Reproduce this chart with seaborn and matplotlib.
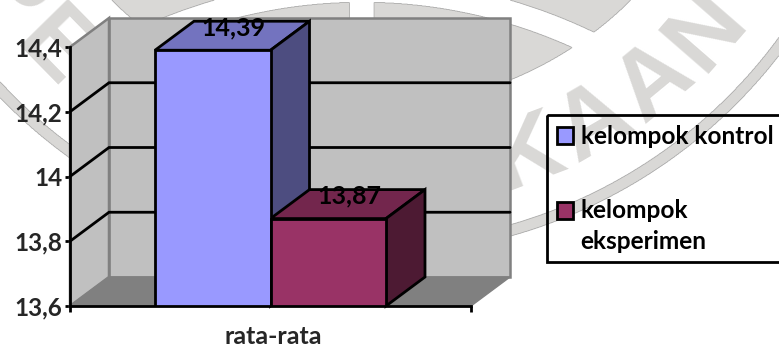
import numpy as np
import pandas as pd
import matplotlib
matplotlib.use("Agg")
import matplotlib.pyplot as plt
from matplotlib.patches import Polygon, Rectangle
import seaborn as sns

# Chart content
category = ["rata-rata"]
groups = ["kelompok kontrol", "kelompok\neksperimen"]
means = [14.39, 13.87]
mean_labels = ["14,39", "13,87"]
y_ticks = [13.6, 13.8, 14.0, 14.2, 14.4]
y_tick_labels = ["13,6", "13,8", "14", "14,2", "14,4"]
front_colors = ["#9999ff", "#993366"]
top_colors = ["#7373bf", "#73264d"]
side_colors = ["#4d4d80", "#4d1a33"]

W, H = 779, 345
sns.set_style("white")
plt.rcParams["font.family"] = ["Lato", "DejaVu Sans"]
plt.rcParams["font.weight"] = "bold"
FS = 18
TICK_FS = 17.5
LEGEND_FS = 17.6
BLACK_LW = 2.0

fig = plt.figure(figsize=(W / 100, H / 100), dpi=100, facecolor="white")

# Faint library emblem printed behind the chart, in pixel coordinates
bg = fig.add_axes([0, 0, 1, 1], zorder=0)
bg.set_xlim(0, W)
bg.set_ylim(H, 0)
bg.axis("off")
STAMP = "#d9d8d6"
ax_c = (371, -261)
lens_c = (362, 512)
xx, yy = np.meshgrid(np.arange(0, W, 0.5), np.arange(0, H, 0.5))
r_a = np.hypot(xx - ax_c[0], yy - ax_c[1])
r_b = np.hypot(xx - lens_c[0], yy - lens_c[1])
inner = (r_a < 368) & ~((r_b > 510) & (r_b < 533)) & ~((xx > 349) & (xx < 374))
ring = (r_a > 505) & (r_a < 516)
mask = np.where(inner | ring, 0.0, np.nan)
bg.imshow(mask, extent=(0, W, H, 0), cmap=matplotlib.colors.ListedColormap([STAMP]),
          interpolation="bilinear", aspect="auto", zorder=0)
bg.set_xlim(0, W)
bg.set_ylim(H, 0)
stamp_letters = "PERPUSTAKAAN"
stamp_angles = np.linspace(-55, 49, len(stamp_letters))
for letter, ang in zip(stamp_letters, stamp_angles):
    a = np.deg2rad(ang)
    bg.text(ax_c[0] + 445 * np.sin(a), ax_c[1] + 445 * np.cos(a), letter,
            rotation=ang, rotation_mode="anchor", ha="center", va="center",
            color=STAMP, fontsize=70, family="Liberation Sans", weight="bold", zorder=1)

# Legend frame is open on the right, past the edge of the figure
bg.add_patch(Rectangle((547, 115), 260, 147, facecolor="none", edgecolor="black",
                       linewidth=BLACK_LW, zorder=3))

# Front plane of the 3-D box
left, right, top, bottom = 70, 471, 47, 306
ax = fig.add_axes([left / W, 1 - bottom / H, (right - left) / W, (bottom - top) / H], zorder=1)
ax.patch.set_visible(False)

df = pd.DataFrame({"kategori": category * 2, "kelompok": groups, "nilai": means})
sns.barplot(data=df, x="kategori", y="nilai", hue="kelompok", hue_order=groups,
            palette=front_colors, width=0.576, gap=0, saturation=1,
            edgecolor="black", linewidth=BLACK_LW, ax=ax, zorder=5)
ax.set_xlim(-0.5, 0.5)
ax.set_ylim(y_ticks[0], y_ticks[-1])

# Depth of the box expressed in data units
dx = 39 / (right - left)
dy = 29 * (y_ticks[-1] - y_ticks[0]) / (bottom - top)
x0, x1 = ax.get_xlim()
y0, y1 = ax.get_ylim()


def face(points, fc, ec, lw, z):
    ax.add_patch(Polygon(points, closed=True, facecolor=fc, edgecolor=ec, linewidth=lw,
                         zorder=z, clip_on=False, joinstyle="miter"))


# Walls and floor
face([(x0 + dx, y0 + dy), (x1 + dx, y0 + dy), (x1 + dx, y1 + dy), (x0 + dx, y1 + dy)],
     "#c0c0c0", "#808080", 1.8, 1)
face([(x0, y0), (x0 + dx, y0 + dy), (x0 + dx, y1 + dy), (x0, y1)], "#c0c0c0", "#808080", 1.8, 1)
face([(x0, y0), (x1, y0), (x1 + dx, y0 + dy), (x0 + dx, y0 + dy)], "#808080", "#808080", 1.0, 1)

# Gridlines run along the side wall and the back wall
for t in y_ticks[1:-1]:
    ax.plot([x0, x0 + dx, x1 + dx], [t, t + dy, t + dy], color="black", lw=BLACK_LW,
            zorder=2, clip_on=False, solid_joinstyle="miter")

# Top and side faces of each bar, from the bars seaborn placed
bars = [p for p in ax.patches if isinstance(p, Rectangle) and p.get_zorder() == 5 and p.get_width() > 0]
for bar, value, label, tc, sc in zip(bars, means, mean_labels, top_colors, side_colors):
    a, b = bar.get_x(), bar.get_x() + bar.get_width()
    face([(a, value), (b, value), (b + dx, value + dy), (a + dx, value + dy)], tc, "black", BLACK_LW, 3)
    face([(b, y0), (b + dx, y0 + dy), (b + dx, value + dy), (b, value)], sc, "black", BLACK_LW, 3)
    ax.text((a + b) / 2 + dx / 2 + 0.003, value + dy - 0.02, label, ha="center", va="center",
            fontsize=FS, weight="bold", color="black", zorder=8, clip_on=False)

# Axes
sns.despine(ax=ax, top=True, right=True)
for s in ("left", "bottom"):
    ax.spines[s].set_linewidth(BLACK_LW)
    ax.spines[s].set_color("black")
    ax.spines[s].set_zorder(7)
ax.set_yticks(y_ticks, y_tick_labels, fontsize=TICK_FS, weight="bold")
ax.tick_params(axis="y", length=3.5, width=BLACK_LW, left=True, pad=2, color="black")
ax.set_xticks([0.006], category, fontsize=FS, weight="bold")
ax.tick_params(axis="x", which="major", length=0, pad=14)
ax.set_xticks([x0, x1], minor=True)
ax.tick_params(axis="x", which="minor", length=4, width=BLACK_LW, bottom=True, color="black")
ax.set_xlabel("")
ax.set_ylabel("")

# Legend entries; the frame itself is drawn separately above
handles, labels = ax.get_legend_handles_labels()
leg = ax.legend(handles, labels, loc="upper left", bbox_to_anchor=(547 / W, 1 - 115 / H),
                bbox_transform=fig.transFigure, fontsize=LEGEND_FS, frameon=False,
                handlelength=0.68, handleheight=0.68,
                handletextpad=0.3, borderpad=0.4, borderaxespad=0, labelspacing=2.1,
                title=None, labelcolor="black")
for txt in leg.get_texts():
    txt.set_linespacing(1.42)
    txt.set_weight("bold")
# Swatch of the two-line entry lines up with its first line
second = leg.legend_handles[1]
second.set_y(second.get_y() + 12)
leg.set_zorder(9)

fig.savefig("out.png", dpi=100)
